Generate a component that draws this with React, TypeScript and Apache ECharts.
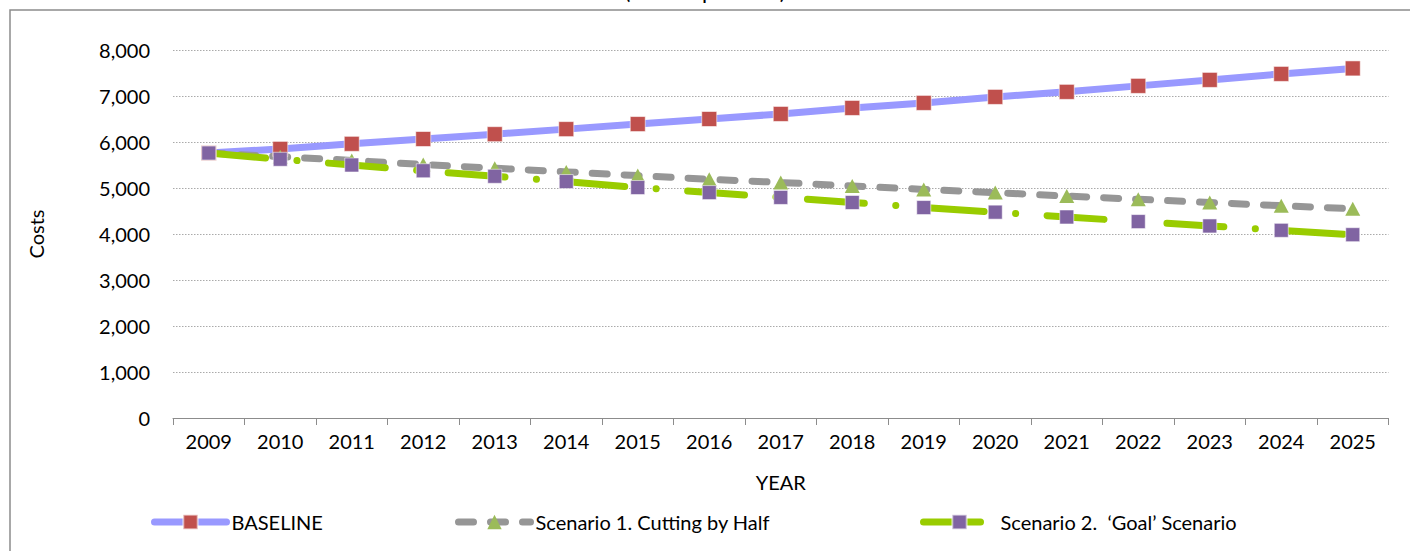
import React, { useEffect, useRef } from "react";
import * as echarts from "echarts";

const years = ["2009", "2010", "2011", "2012", "2013", "2014", "2015", "2016", "2017", "2018", "2019", "2020", "2021", "2022", "2023", "2024", "2025"];
const baseline = [5760, 5850, 5960, 6065, 6170, 6280, 6390, 6500, 6610, 6740, 6850, 6980, 7090, 7220, 7350, 7480, 7600];
const scenario1 = [5760, 5680, 5600, 5510, 5430, 5350, 5270, 5190, 5120, 5045, 4970, 4900, 4825, 4755, 4685, 4615, 4550];
const scenario2 = [5760, 5625, 5500, 5375, 5255, 5140, 5010, 4900, 4795, 4685, 4575, 4475, 4370, 4270, 4175, 4080, 3985];
const seriesNames = ["BASELINE", "Scenario 1. Cutting by Half", "Scenario 2.  \u2018Goal\u2019 Scenario"];
const yTicks = [0, 1000, 2000, 3000, 4000, 5000, 6000, 7000, 8000];

const FONT = "Lato";

export default function App() {
  const ref = useRef<HTMLDivElement>(null);
  useEffect(() => {
    if (!ref.current) return;
    const chart = echarts.init(ref.current, null, { renderer: "svg" });
    const legendBase = {
      orient: "horizontal",
      padding: 0,
      itemWidth: 72,
      itemHeight: 18,
      selectedMode: false,
      lineStyle: { width: 7, cap: "round" },
      textStyle: { fontFamily: FONT, fontSize: 20, color: "#000" },
    };
    chart.setOption({
      animation: false,
      backgroundColor: "#fff",
      textStyle: { fontFamily: FONT },
      grid: { left: 173, right: 21.5, top: 50, bottom: 133, containLabel: false },
      graphic: [
        {
          type: "rect",
          shape: { x: 10, y: 10, width: 1420, height: 570 },
          style: { fill: "none", stroke: "#8c8c8c", lineWidth: 1.5 },
          silent: true,
        },
        {
          type: "text",
          x: 705,
          y: 1.5,
          style: {
            text: "(Million per Year)",
            fontFamily: FONT,
            fontSize: 22,
            fill: "#000",
            align: "center",
            verticalAlign: "bottom",
          },
          silent: true,
        },
      ],
      legend: [
        { ...legendBase, data: [seriesNames[0]], left: 151, top: 512 },
        { ...legendBase, data: [seriesNames[1]], left: 455, top: 512 },
        { ...legendBase, data: [seriesNames[2]], left: 920, top: 512 },
      ],
      xAxis: {
        type: "category",
        data: years,
        boundaryGap: true,
        name: "YEAR",
        nameLocation: "middle",
        nameGap: 54,
        nameTextStyle: { fontFamily: FONT, fontSize: 20, color: "#000" },
        axisLine: { show: true, lineStyle: { color: "#8c8c8c", width: 1 } },
        axisTick: { show: true, length: 7, interval: 0, lineStyle: { color: "#8c8c8c" } },
        axisLabel: { interval: 0, margin: 13, fontFamily: FONT, fontSize: 20, color: "#000" },
        splitLine: { show: false },
      },
      yAxis: {
        type: "value",
        min: yTicks[0],
        max: yTicks[yTicks.length - 1],
        interval: 1000,
        name: "Costs",
        nameLocation: "middle",
        nameGap: 127,
        nameTextStyle: { fontFamily: FONT, fontSize: 20, color: "#000" },
        axisLine: { show: false },
        axisTick: { show: false },
        axisLabel: {
          margin: 23,
          fontFamily: FONT,
          fontSize: 20,
          color: "#000",
          formatter: (v: number) => v.toLocaleString("en-US"),
        },
        splitLine: { show: true, lineStyle: { color: "#aaaaaa", width: 1, type: [1.5, 1.5] } },
      },
      series: [
        {
          name: seriesNames[0],
          type: "line",
          data: baseline,
          symbol: "rect",
          symbolSize: 15,
          showAllSymbol: true,
          lineStyle: { color: "#9999FF", width: 7, cap: "round", join: "round" },
          itemStyle: { color: "#C0504D", borderColor: "rgba(255,255,255,0.55)", borderWidth: 1 },
          emphasis: { disabled: true },
        },
        {
          name: seriesNames[1],
          type: "line",
          data: scenario1,
          symbol: "triangle",
          symbolSize: [15, 14],
          showAllSymbol: true,
          lineStyle: { color: "#969696", width: 7, type: [15, 17], cap: "round", join: "round" },
          itemStyle: { color: "#9BBB59" },
          emphasis: { disabled: true },
        },
        {
          name: seriesNames[2],
          type: "line",
          data: scenario2,
          symbol: "rect",
          symbolSize: 14,
          showAllSymbol: true,
          lineStyle: { color: "#99CC00", width: 7, type: [57, 31.5, 0.1, 31.5], cap: "round", join: "round" },
          itemStyle: { color: "#8064A2", borderColor: "rgba(255,255,255,0.55)", borderWidth: 1 },
          emphasis: { disabled: true },
        },
      ],
    });
    return () => chart.dispose();
  }, []);
  return (
    <div
      ref={ref}
      style={{ position: "absolute", left: 0, top: 0, width: 1410, height: 551 }}
    />
  );
}
